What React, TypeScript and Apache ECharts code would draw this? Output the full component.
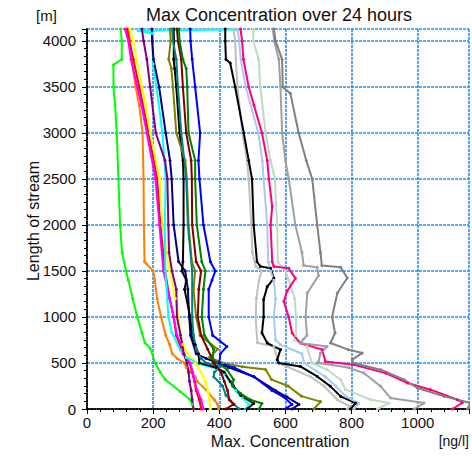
import React, { useEffect, useRef } from "react";
import * as echarts from "echarts";

// [concentration ng/l, length m]
const lime = [[322,0],[318,50],[312,100],[282,190],[236,320],[222,400],[206,500],[191,660],[175,720],[166,830],[152,1000],[138,1200],[125,1400],[118,1500],[106,1700],[100,2000],[95,2500],[90,3000],[85,3300],[80,3500],[80,3740],[105,3800],[105,4000],[102,4130]];
const orange = [[398,0],[395,50],[385,100],[362,200],[333,300],[327,350],[315,400],[300,450],[295,500],[272,550],[258,600],[250,700],[238,800],[224,1000],[212,1200],[205,1400],[200,1500],[174,1600],[172,2000],[171,2500],[168,3000],[158,3300],[147,3500],[135,3800],[130,4000],[125,4130]];
const red = [[345,0],[340,100],[330,200],[325,300],[318,400],[310,500],[285,650],[270,800],[262,1000],[250,1200],[236,1500],[222,2000],[212,2500],[186,3000],[158,3500],[140,3800],[128,4000],[120,4130]];
const magenta = [[352,0],[345,100],[333,200],[325,300],[322,350],[320,400],[312,500],[290,600],[285,700],[272,800],[262,1000],[250,1200],[231,1500],[219,2000],[207,2500],[181,3000],[165,3300],[152,3500],[133,3800],[125,4000],[115,4130]];
const yellow = [[373,0],[370,100],[365,200],[358,300],[345,400],[327,500],[305,600],[290,700],[283,800],[277,1000],[267,1200],[250,1500],[228,2000],[220,2500],[191,3000],[178,3300],[166,3500],[150,3800],[140,4000],[130,4130]];
const cyan = [[480,0],[490,50],[470,120],[450,200],[433,290],[415,380],[390,440],[340,490],[300,560],[282,640],[257,830],[246,1000],[243,1190],[237,1500],[235,2000],[238,2500],[228,3000],[210,3500],[200,3750],[197,4080],[155,4110],[450,4125]];
const purple = [[322,0],[318,100],[315,200],[310,300],[307,400],[302,500],[293,600],[283,800],[272,1000],[270,1300],[257,1500],[248,1700],[246,2000],[243,2500],[236,2700],[208,3000],[191,3500],[181,3800],[171,4000],[166,4130]];
const navy = [[620,0],[641,50],[605,130],[570,200],[505,350],[430,450],[395,500],[360,550],[330,600],[313,800],[309,1000],[305,1300],[297,1500],[277,1600],[262,2000],[256,2500],[251,2700],[238,3000],[218,3500],[201,3800],[197,4000],[196,4130]];
const black = [[484,0],[504,60],[464,150],[443,250],[433,300],[415,400],[390,450],[340,500],[337,600],[327,700],[318,800],[312,1000],[295,1300],[300,1400],[287,1500],[290,1600],[292,2000],[292,2500],[290,2700],[280,3000],[270,3500],[265,3700],[262,3800],[263,4000],[262,4130]];
const olive = [[686,0],[706,80],[648,140],[608,250],[558,320],[540,430],[470,460],[410,500],[370,560],[395,650],[342,800],[330,1000],[322,1300],[327,1500],[317,1600],[307,2000],[302,2500],[297,2700],[270,3000],[260,3500],[255,3700],[247,3800],[253,4000],[251,4130]];
const teal = [[460,0],[445,50],[420,150],[410,250],[383,350],[385,400],[403,460],[360,500],[345,550],[330,650],[322,800],[318,1000],[318,1500],[305,2000],[300,2500],[285,3000],[275,3500],[270,3800],[260,4000],[258,4130]];
const maroon = [[420,0],[443,50],[430,100],[425,200],[415,300],[405,400],[383,500],[365,650],[345,800],[335,1000],[338,1300],[345,1500],[330,1600],[318,2000],[317,2500],[315,2700],[300,3000],[290,3500],[285,3800],[275,4000],[272,4130]];
const green = [[520,0],[529,60],[494,100],[464,170],[440,250],[443,320],[423,430],[395,500],[380,550],[383,650],[355,800],[347,1000],[352,1300],[358,1500],[347,1600],[332,2000],[327,2500],[327,2700],[307,3000],[303,3500],[300,3700],[290,3800],[280,4000],[278,4130]];
const blue = [[600,0],[620,50],[595,130],[560,200],[505,350],[445,450],[400,500],[403,600],[423,680],[380,800],[368,1000],[368,1300],[378,1400],[388,1500],[373,1600],[352,2000],[340,2500],[337,2700],[342,3000],[327,3500],[318,3800],[313,4000],[312,4130]];
const silver = [[787,0],[795,30],[757,100],[716,250],[676,350],[580,500],[565,680],[515,720],[510,1000],[512,1200],[520,1400],[528,1500],[510,1550],[500,1700],[497,2000],[489,2500],[484,2700],[470,3000],[455,3500],[450,3800],[448,4000],[443,4130]];
const black2 = [[797,0],[812,64],[767,137],[736,246],[696,354],[645,463],[580,500],[575,536],[585,645],[545,717],[529,826],[534,1000],[534,1190],[545,1330],[565,1420],[555,1530],[524,1550],[514,1600],[504,2000],[499,2500],[489,2700],[474,3000],[448,3500],[433,3760],[420,3800],[418,4000],[418,4130]];
const lightBlue = [[807,0],[822,60],[782,140],[752,250],[721,350],[656,500],[650,600],[585,700],[570,750],[565,1000],[570,1200],[565,1400],[555,1500],[548,1600],[545,2000],[534,2500],[530,2700],[518,3000],[480,3500],[465,3800],[460,4000],[455,4130]];
const paleGreen = [[878,0],[913,65],[858,101],[782,210],[767,318],[726,427],[680,500],[665,680],[628,750],[632,800],[632,1000],[628,1200],[610,1400],[600,1500],[577,1600],[575,2000],[568,2500],[555,2700],[540,3000],[524,3500],[519,3800],[503,4000],[503,4130]];
const deepPink = [[1105,0],[1135,68],[1120,101],[1039,210],[969,282],[903,390],[807,481],[721,517],[711,645],[645,717],[620,826],[610,1000],[595,1170],[605,1280],[630,1420],[610,1530],[565,1550],[560,1600],[555,2000],[560,2200],[550,2500],[545,2700],[529,3000],[505,3300],[489,3500],[473,3800],[469,4000],[464,4130]];
const gray = [[989,0],[1019,65],[918,119],[888,246],[837,391],[790,450],[700,500],[700,517],[706,608],[726,680],[645,717],[655,760],[665,800],[661,1000],[666,1260],[700,1450],[696,1540],[655,1560],[650,1700],[630,2000],[610,2500],[600,2700],[590,3000],[585,3500],[580,3800],[566,4000],[562,4130]];
const darkGray = [[1150,0],[1160,65],[1080,137],[999,228],[959,318],[888,427],[805,500],[802,536],[832,608],[790,645],[736,717],[750,826],[741,1000],[757,1261],[787,1424],[767,1540],[710,1560],[706,1700],[696,2000],[681,2500],[663,2700],[640,3000],[615,3430],[592,3500],[590,3800],[570,4000],[565,4130]];

const seriesList: [string, number[][], string][] = [
  ["lime", lime, "#00ff00"],
  ["orange", orange, "#ff8000"],
  ["red", red, "#ff0000"],
  ["magenta", magenta, "#ff00ff"],
  ["yellow", yellow, "#ffff00"],
  ["cyan", cyan, "#00ffff"],
  ["purple", purple, "#800080"],
  ["navy", navy, "#000080"],
  ["black", black, "#000000"],
  ["olive", olive, "#808000"],
  ["teal", teal, "#008080"],
  ["maroon", maroon, "#800000"],
  ["green", green, "#008000"],
  ["blue", blue, "#0000ff"],
  ["silver", silver, "#c0c0c0"],
  ["black2", black2, "#000000"],
  ["lightBlue", lightBlue, "#a6caf0"],
  ["paleGreen", paleGreen, "#c0dcc0"],
  ["deepPink", deepPink, "#ff0080"],
  ["gray", gray, "#a0a0a4"],
  ["darkGray", darkGray, "#808080"],
];

const X_MAX = 1155;
const Y_MAX = 4130;
const FAMILY = "'Liberation Sans', Arial, sans-serif";

export default function App() {
  const ref = useRef<HTMLDivElement>(null);
  useEffect(() => {
    const chart = echarts.init(ref.current!, null, { renderer: "svg" });
    const border = { show: true, lineStyle: { color: "#000", width: 1.5, type: [2, 1.5] as any } };
    const grid = { show: true, lineStyle: { color: "#1e90ff", width: 1.6, type: [3, 1] as any } };
    const fmt = (v: number) => String(v);
    chart.setOption({
      animation: false,
      backgroundColor: "#fff",
      textStyle: { fontFamily: FAMILY },
      grid: { left: 87, top: 29, width: 382, height: 380 },
      xAxis: [
        {
          type: "value", min: 0, max: X_MAX, interval: 200, position: "bottom",
          axisLine: border,
          axisTick: { show: true, length: 5, lineStyle: { color: "#000", width: 1 } },
          minorTick: { show: true, splitNumber: 5, length: 3, lineStyle: { color: "#000", width: 1 } },
          axisLabel: { fontSize: 15, color: "#111", fontFamily: FAMILY, margin: 6, showMaxLabel: false, formatter: fmt },
          splitLine: grid,
        },
        {
          type: "value", min: 0, max: X_MAX, position: "top",
          axisLine: border, axisTick: { show: false }, axisLabel: { show: false }, splitLine: { show: false },
        },
      ],
      yAxis: [
        {
          type: "value", min: 0, max: Y_MAX, interval: 500, position: "left",
          axisLine: border,
          axisTick: { show: true, length: 5, lineStyle: { color: "#000", width: 1 } },
          minorTick: { show: true, splitNumber: 6, length: 3, lineStyle: { color: "#000", width: 1 } },
          axisLabel: { fontSize: 15, color: "#111", fontFamily: FAMILY, margin: 11, showMaxLabel: false, formatter: fmt },
          splitLine: grid,
        },
        {
          type: "value", min: 0, max: Y_MAX, position: "right",
          axisLine: border, axisTick: { show: false }, axisLabel: { show: false }, splitLine: { show: false },
        },
      ],
      series: seriesList.map(([name, data, color]) => ({
        name, type: "line", data, xAxisIndex: 0, yAxisIndex: 0,
        showSymbol: true, symbol: "circle", symbolSize: 3,
        lineStyle: { color, width: 2 }, itemStyle: { color },
        emphasis: { disabled: true }, silent: true, clip: true,
      })),
      graphic: [
        { type: "text", x: 279, y: 6, style: { text: "Max Concentration over 24 hours", fontSize: 18, fontFamily: FAMILY, fill: "#111", textAlign: "center" } },
        { type: "text", x: 36, y: 8, style: { text: "[m]", fontSize: 15, fontFamily: FAMILY, fill: "#111" } },
        { type: "text", x: 33, y: 221, rotation: Math.PI / 2, style: { text: "Length of stream", fontSize: 16, fontFamily: FAMILY, fill: "#111", textAlign: "center", textVerticalAlign: "middle" } },
        { type: "text", x: 280, y: 441, style: { text: "Max. Concentration", fontSize: 16, fontFamily: FAMILY, fill: "#111", textAlign: "center", textVerticalAlign: "middle" } },
        { type: "text", x: 469, y: 441, style: { text: "[ng/l]", fontSize: 14, fontFamily: FAMILY, fill: "#111", textAlign: "right", textVerticalAlign: "middle" } },
      ],
    });
    return () => chart.dispose();
  }, []);
  return <div ref={ref} style={{ position: "fixed", left: 0, top: 0, width: 472, height: 457 }} />;
}
